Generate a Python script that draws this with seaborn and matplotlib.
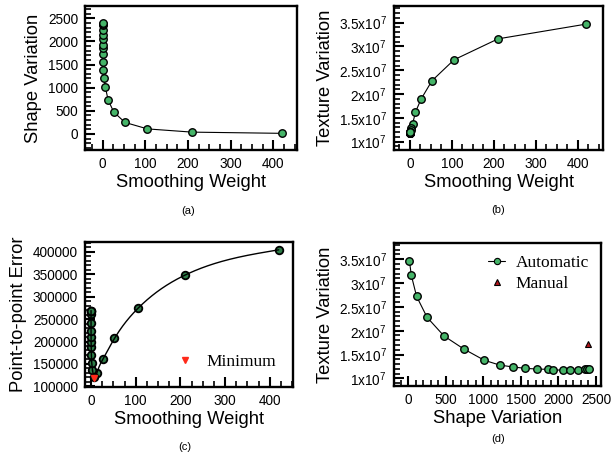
import numpy as np
import pandas as pd
import matplotlib
matplotlib.use("Agg")
import matplotlib.pyplot as plt
import seaborn as sns
from matplotlib.ticker import MultipleLocator, AutoMinorLocator, FuncFormatter
from matplotlib.lines import Line2D

# ---------------- data ----------------
weights = [420, 210, 105, 52.5, 26.25, 13.125, 6.5625, 3.28, 1.64, 0.82, 0.41,
           0.205, 0.1025, 0.0513, 0.0256, 0.0128, 0.0064, 0.0032, 0.0016]
shape_var = [14, 40, 110, 250, 475, 735, 1012, 1215, 1390, 1560, 1720,
             1860, 1930, 2055, 2150, 2258, 2360, 2385, 2405]
texture_var = [3.47e7, 3.16e7, 2.72e7, 2.28e7, 1.89e7, 1.62e7, 1.38e7, 1.28e7,
               1.24e7, 1.21e7, 1.195e7, 1.19e7, 1.175e7, 1.175e7, 1.175e7,
               1.18e7, 1.19e7, 1.195e7, 1.195e7]
p2p_error = [404500, 348000, 274000, 207000, 160000, 130600, 121000, 135700,
             152100, 170700, 187800, 198200, 210900, 224300, 242200, 262300,
             267500, 268500, 269000]
min_weight = [6.0]
min_error = [119500]
manual_shape = [2395]
manual_texture = [1.72e7]

df = pd.DataFrame({"w": weights, "shape": shape_var, "tex": texture_var, "err": p2p_error})

# ---------------- style ----------------
sns.set_theme(style="ticks")
plt.rcParams["font.family"] = ["Liberation Sans", "DejaVu Sans"]
plt.rcParams["mathtext.default"] = "regular"
plt.rcParams["text.color"] = "black"
plt.rcParams["axes.labelcolor"] = "black"
plt.rcParams["axes.axisbelow"] = False

GREEN = "#45b468"
DGREEN = "#2d7c47"
LBL = 13.2
TCK = 9.8

fig = plt.figure(figsize=(6.12, 4.54), dpi=100)
ax_a = fig.add_axes([85/612, 1-150/454, 212/612, 144/454])
ax_b = fig.add_axes([394/612, 1-150/454, 209/612, 144/454])
ax_c = fig.add_axes([85/612, 1-387/454, 208/612, 145/454])
ax_d = fig.add_axes([394/612, 1-386/454, 207/612, 143/454])


def style(ax, xmaj, xminor_n, ymaj, yminor_n):
    ax.xaxis.set_major_locator(MultipleLocator(xmaj))
    ax.yaxis.set_major_locator(MultipleLocator(ymaj))
    ax.xaxis.set_minor_locator(AutoMinorLocator(xminor_n))
    ax.yaxis.set_minor_locator(AutoMinorLocator(yminor_n))
    ax.tick_params(which="major", direction="in", length=7, width=1.5, color="black",
                   labelsize=TCK, pad=5, labelcolor="black")
    ax.tick_params(which="minor", direction="in", length=4, width=1.2, color="black")
    for s in ax.spines.values():
        s.set_linewidth(1.7)
        s.set_edgecolor("black")


def e7fmt(v, pos):
    s = f"{v/1e7:g}"
    return s + "x10$^{7}$"


mk = dict(marker="o", markersize=5.4, markerfacecolor=GREEN, markeredgecolor="black",
          markeredgewidth=1.0, color="black", linewidth=0.8)

# (a)
sns.lineplot(data=df, x="w", y="shape", ax=ax_a, sort=False, estimator=None, **mk)
ax_a.set_xlim(-41, 455)
ax_a.set_ylim(-346, 2766)
style(ax_a, 100, 4, 500, 5)
ax_a.set_xlabel("Smoothing Weight", fontsize=LBL, labelpad=2)
ax_a.set_ylabel("Shape Variation", fontsize=LBL, labelpad=4)

# (b)
sns.lineplot(data=df, x="w", y="tex", ax=ax_b, sort=False, estimator=None, **mk)
ax_b.set_xlim(-38, 460)
ax_b.set_ylim(8.25e6, 3.85e7)
style(ax_b, 100, 4, 5e6, 5)
ax_b.yaxis.set_major_formatter(FuncFormatter(e7fmt))
ax_b.set_xlabel("Smoothing Weight", fontsize=LBL, labelpad=2)
ax_b.set_ylabel("Texture Variation", fontsize=LBL, labelpad=4)

# (c)
sns.scatterplot(data=df, x="w", y="err", ax=ax_c, s=30, color=DGREEN,
                edgecolor="black", linewidth=1.3, zorder=3)
# smooth curve through the larger weights (natural cubic spline)
sub = df[df["w"] >= 3].sort_values("w")
xs = sub["w"].to_numpy(float)
ys = sub["err"].to_numpy(float)
n = len(xs)
h = np.diff(xs)
A = np.zeros((n, n))
r = np.zeros(n)
A[0, 0] = 1
A[-1, -1] = 1
for i in range(1, n-1):
    A[i, i-1] = h[i-1]
    A[i, i] = 2*(h[i-1]+h[i])
    A[i, i+1] = h[i]
    r[i] = 6*((ys[i+1]-ys[i])/h[i] - (ys[i]-ys[i-1])/h[i-1])
M = np.linalg.solve(A, r)
xx = np.linspace(xs[0], xs[-1], 600)
idx = np.clip(np.searchsorted(xs, xx) - 1, 0, n-2)
x0, x1 = xs[idx], xs[idx+1]
hh = x1 - x0
yy = (M[idx]*(x1-xx)**3/(6*hh) + M[idx+1]*(xx-x0)**3/(6*hh)
      + (ys[idx]/hh - M[idx]*hh/6)*(x1-xx) + (ys[idx+1]/hh - M[idx+1]*hh/6)*(xx-x0))
curve = pd.DataFrame({"w": xx, "err": yy})
sns.lineplot(data=curve, x="w", y="err", ax=ax_c, color="black", linewidth=1.0,
             sort=False, estimator=None, zorder=4)
low = df[df["w"] <= 3.5].sort_values("w")
sns.lineplot(data=low, x="w", y="err", ax=ax_c, color="black", linewidth=1.0,
             sort=False, estimator=None, zorder=4)
ax_c.plot(min_weight, min_error, linestyle="none", marker="v", markersize=5,
          color="#ff2a1a", zorder=5)
ax_c.set_xlim(-13.5, 452)
ax_c.set_ylim(98500, 422000)
style(ax_c, 100, 4, 50000, 5)
ax_c.yaxis.set_major_formatter(FuncFormatter(lambda v, p: f"{int(round(v))}"))
ax_c.set_xlabel("Smoothing Weight", fontsize=LBL, labelpad=2)
ax_c.set_ylabel("Point-to-point Error", fontsize=LBL, labelpad=4)
hc = [Line2D([], [], linestyle="none", marker="v", markersize=5, color="#ff2a1a")]
ax_c.legend(hc, ["Minimum"], loc="lower right", frameon=False,
            prop={"family": "Liberation Serif", "size": 12.5},
            handletextpad=0.6, borderaxespad=0.6, handlelength=1.2)

# (d)
sns.lineplot(data=df, x="shape", y="tex", ax=ax_d, sort=False, estimator=None, **mk)
ax_d.plot(manual_shape, manual_texture, linestyle="none", marker="^", markersize=5,
          markerfacecolor="#b3141b", markeredgecolor="black", markeredgewidth=0.8)
ax_d.set_xlim(-191, 2567)
ax_d.set_ylim(8.4e6, 3.84e7)
style(ax_d, 500, 5, 5e6, 5)
ax_d.yaxis.set_major_formatter(FuncFormatter(e7fmt))
ax_d.set_xlabel("Shape Variation", fontsize=LBL, labelpad=2)
ax_d.set_ylabel("Texture Variation", fontsize=LBL, labelpad=4)
hd = [Line2D([], [], color="black", linewidth=0.8, marker="o", markersize=4.5,
             markerfacecolor=GREEN, markeredgecolor="black", markeredgewidth=0.8),
      Line2D([], [], linestyle="none", marker="^", markersize=4.5,
             markerfacecolor="#b3141b", markeredgecolor="black", markeredgewidth=0.8)]
ax_d.legend(hd, ["Automatic", "Manual"], loc="upper right", frameon=False,
            prop={"family": "Liberation Serif", "size": 12.5},
            handletextpad=0.6, borderaxespad=0.3, handlelength=1.0, labelspacing=0.25)

# captions
for txt, x, y in [("(a)", 188, 211), ("(b)", 498, 210), ("(c)", 185, 447), ("(d)", 498, 439)]:
    fig.text(x/612, 1-y/454, txt, ha="center", va="center", fontsize=8)

fig.savefig("out.png", dpi=100)
